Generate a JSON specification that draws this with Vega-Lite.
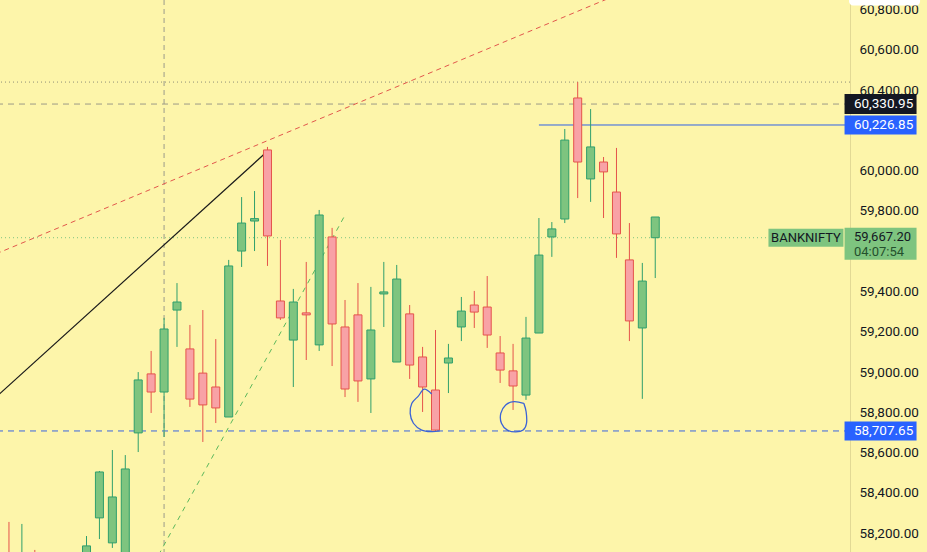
{
  "$schema": "https://vega.github.io/schema/vega-lite/v6.json",
  "width": 850,
  "height": 552,
  "autosize": {"type": "none"},
  "padding": {"left": 0, "top": 0, "right": 77, "bottom": 0},
  "background": "#fdf5aa",
  "config": {"view": {"stroke": null}},
  "datasets": {
    "candles": [
      {"i": 0, "o": 58080, "h": 58256, "l": 57950, "c": 57990},
      {"i": 1, "o": 57980, "h": 58246, "l": 57920, "c": 58080},
      {"i": 2, "o": 58060, "h": 58117, "l": 57900, "c": 57950},
      {"i": 3, "o": 57850, "h": 58000, "l": 57800, "c": 57950},
      {"i": 4, "o": 57960, "h": 58010, "l": 57840, "c": 57880},
      {"i": 5, "o": 57870, "h": 58060, "l": 57850, "c": 58000},
      {"i": 6, "o": 57960, "h": 58186, "l": 57940, "c": 58137},
      {"i": 7, "o": 58276, "h": 58509, "l": 58171, "c": 58504},
      {"i": 8, "o": 58152, "h": 58613, "l": 58127, "c": 58380},
      {"i": 9, "o": 58080, "h": 58588, "l": 58050, "c": 58519},
      {"i": 10, "o": 58698, "h": 59000, "l": 58603, "c": 58961},
      {"i": 11, "o": 58991, "h": 59105, "l": 58797, "c": 58901},
      {"i": 12, "o": 58901, "h": 59269, "l": 58678, "c": 59214},
      {"i": 13, "o": 59308, "h": 59442, "l": 59125, "c": 59348},
      {"i": 14, "o": 59115, "h": 59234, "l": 58827, "c": 58866},
      {"i": 15, "o": 58995, "h": 59308, "l": 58653, "c": 58837},
      {"i": 16, "o": 58926, "h": 59164, "l": 58747, "c": 58822},
      {"i": 17, "o": 58777, "h": 59557, "l": 58777, "c": 59527},
      {"i": 18, "o": 59601, "h": 59869, "l": 59522, "c": 59740},
      {"i": 19, "o": 59750, "h": 59899, "l": 59601, "c": 59762},
      {"i": 20, "o": 60103, "h": 60118, "l": 59527, "c": 59676},
      {"i": 21, "o": 59353, "h": 59656, "l": 59259, "c": 59269},
      {"i": 22, "o": 59159, "h": 59413, "l": 58926, "c": 59348},
      {"i": 23, "o": 59294, "h": 59547, "l": 59060, "c": 59284},
      {"i": 24, "o": 59135, "h": 59805, "l": 59105, "c": 59780},
      {"i": 25, "o": 59671, "h": 59716, "l": 59030, "c": 59239},
      {"i": 26, "o": 59224, "h": 59358, "l": 58876, "c": 58916},
      {"i": 27, "o": 59284, "h": 59442, "l": 58852, "c": 58956},
      {"i": 28, "o": 58966, "h": 59423, "l": 58797, "c": 59209},
      {"i": 29, "o": 59388, "h": 59547, "l": 59224, "c": 59398},
      {"i": 30, "o": 59050, "h": 59532, "l": 59050, "c": 59462},
      {"i": 31, "o": 59289, "h": 59333, "l": 58966, "c": 59035},
      {"i": 32, "o": 59075, "h": 59125, "l": 58802, "c": 58926},
      {"i": 33, "o": 58911, "h": 59209, "l": 58707.65, "c": 58712},
      {"i": 34, "o": 59045, "h": 59140, "l": 58896, "c": 59070},
      {"i": 35, "o": 59224, "h": 59373, "l": 59154, "c": 59303},
      {"i": 36, "o": 59333, "h": 59403, "l": 59219, "c": 59298},
      {"i": 37, "o": 59323, "h": 59477, "l": 59120, "c": 59184},
      {"i": 38, "o": 59095, "h": 59179, "l": 58946, "c": 59010},
      {"i": 39, "o": 59006, "h": 59140, "l": 58812, "c": 58931},
      {"i": 40, "o": 58886, "h": 59274, "l": 58862, "c": 59169},
      {"i": 41, "o": 59194, "h": 59765, "l": 59194, "c": 59581},
      {"i": 42, "o": 59671, "h": 59745, "l": 59572, "c": 59711},
      {"i": 43, "o": 59760, "h": 60207, "l": 59740, "c": 60152},
      {"i": 44, "o": 60361, "h": 60440, "l": 59864, "c": 60043},
      {"i": 45, "o": 59959, "h": 60306, "l": 59845, "c": 60118},
      {"i": 46, "o": 60043, "h": 60068, "l": 59765, "c": 59994},
      {"i": 47, "o": 59894, "h": 60113, "l": 59567, "c": 59686},
      {"i": 48, "o": 59557, "h": 59740, "l": 59154, "c": 59254},
      {"i": 49, "o": 59219, "h": 59542, "l": 58867, "c": 59452},
      {"i": 50, "o": 59667.2, "h": 59770, "l": 59467, "c": 59770}
    ],
    "trends": [
      {"line": "red", "k": 0, "i": -1, "p": 59587},
      {"line": "red", "k": 1, "i": 64.68, "p": 61345},
      {"line": "black", "k": 0, "i": -1, "p": 58876},
      {"line": "black", "k": 1, "i": 19.8, "p": 60085},
      {"line": "green", "k": 0, "i": 11.2, "p": 58048},
      {"line": "green", "k": 1, "i": 25.92, "p": 59770}
    ],
    "circles": [
      {"loop": 1, "k": 0, "i": 32.70, "p": 58891},
      {"loop": 1, "k": 1, "i": 32.13, "p": 58915},
      {"loop": 1, "k": 2, "i": 31.67, "p": 58881},
      {"loop": 1, "k": 3, "i": 31.17, "p": 58845},
      {"loop": 1, "k": 4, "i": 31.04, "p": 58795},
      {"loop": 1, "k": 5, "i": 31.29, "p": 58746},
      {"loop": 1, "k": 6, "i": 31.93, "p": 58712},
      {"loop": 1, "k": 7, "i": 32.70, "p": 58704},
      {"loop": 1, "k": 8, "i": 33.33, "p": 58708},
      {"loop": 2, "k": 0, "i": 39.83, "p": 58845},
      {"loop": 2, "k": 1, "i": 39.07, "p": 58853},
      {"loop": 2, "k": 2, "i": 38.43, "p": 58837},
      {"loop": 2, "k": 3, "i": 38.05, "p": 58795},
      {"loop": 2, "k": 4, "i": 38.10, "p": 58746},
      {"loop": 2, "k": 5, "i": 38.56, "p": 58712},
      {"loop": 2, "k": 6, "i": 39.20, "p": 58703},
      {"loop": 2, "k": 7, "i": 39.78, "p": 58712},
      {"loop": 2, "k": 8, "i": 40.04, "p": 58746},
      {"loop": 2, "k": 9, "i": 40.01, "p": 58803},
      {"loop": 2, "k": 10, "i": 39.83, "p": 58845}
    ]
  },
  "layer": [
    {
      "data": {"values": [{"p": 60440}]},
      "mark": {"type": "rule", "color": "#8f8f78", "strokeWidth": 1, "strokeDash": [1, 3]},
      "encoding": {"y": {"field": "p", "type": "quantitative", "scale": {"domain": [58106.7, 60847.5], "nice": false, "zero": false},
          "axis": {"orient": "right", "title": null, "values": [58200, 58400, 58600, 58800, 59000, 59200, 59400, 59800, 60000, 60400, 60600, 60800], "format": ",.2f", "grid": false, "ticks": false, "domainColor": "#e2d995", "domainWidth": 1, "labelFont": "Roboto", "labelFontSize": 13.5, "labelColor": "#131722", "labelPadding": 9, "labelFlush": false, "labelOverlap": false, "labelBound": false, "zindex": 0}}}
    },
    {
      "data": {"values": [{"p": 60330.95}]},
      "mark": {"type": "rule", "color": "#9c9a88", "strokeWidth": 1, "strokeDash": [6, 5]},
      "encoding": {"y": {"field": "p", "type": "quantitative", "scale": {"domain": [58106.7, 60847.5], "nice": false, "zero": false}}}
    },
    {
      "data": {"values": [{"p": 59667.2}]},
      "mark": {"type": "rule", "color": "#7ec47f", "strokeWidth": 1, "strokeDash": [1, 3]},
      "encoding": {"y": {"field": "p", "type": "quantitative", "scale": {"domain": [58106.7, 60847.5], "nice": false, "zero": false}}}
    },
    {
      "data": {"values": [{"p": 58707.65}]},
      "mark": {"type": "rule", "color": "#3a66e0", "strokeWidth": 1, "strokeDash": [6, 5]},
      "encoding": {"y": {"field": "p", "type": "quantitative", "scale": {"domain": [58106.7, 60847.5], "nice": false, "zero": false}}}
    },
    {
      "data": {"values": [{"p": 60226.85, "from": 41.0, "to": 64.68}]},
      "mark": {"type": "rule", "color": "#2f62e6", "strokeWidth": 1},
      "encoding": {
        "x": {"field": "from", "type": "quantitative", "scale": {"domain": [-0.306, 64.68], "nice": false, "zero": false}, "axis": null},
        "x2": {"field": "to"},
        "y": {"field": "p", "type": "quantitative", "scale": {"domain": [58106.7, 60847.5], "nice": false, "zero": false}}
      }
    },
    {
      "data": {"values": [{"i": 12}]},
      "mark": {"type": "rule", "color": "#9a9a8a", "strokeWidth": 1, "strokeDash": [5, 4]},
      "encoding": {"x": {"field": "i", "type": "quantitative", "scale": {"domain": [-0.306, 64.68], "nice": false, "zero": false}, "axis": null}}
    },
    {
      "data": {"name": "trends"},
      "transform": [{"filter": "datum.line == 'red'"}],
      "mark": {"type": "line", "color": "#e2574c", "strokeWidth": 1, "strokeDash": [5, 4], "clip": true},
      "encoding": {
        "x": {"field": "i", "type": "quantitative", "scale": {"domain": [-0.306, 64.68], "nice": false, "zero": false}, "axis": null},
        "y": {"field": "p", "type": "quantitative", "scale": {"domain": [58106.7, 60847.5], "nice": false, "zero": false}},
        "order": {"field": "k"}
      }
    },
    {
      "data": {"name": "trends"},
      "transform": [{"filter": "datum.line == 'black'"}],
      "mark": {"type": "line", "color": "#1a1a1a", "strokeWidth": 1.2, "clip": true},
      "encoding": {
        "x": {"field": "i", "type": "quantitative", "scale": {"domain": [-0.306, 64.68], "nice": false, "zero": false}, "axis": null},
        "y": {"field": "p", "type": "quantitative", "scale": {"domain": [58106.7, 60847.5], "nice": false, "zero": false}},
        "order": {"field": "k"}
      }
    },
    {
      "data": {"name": "trends"},
      "transform": [{"filter": "datum.line == 'green'"}],
      "mark": {"type": "line", "color": "#5cb85c", "strokeWidth": 1, "strokeDash": [5, 5], "clip": true},
      "encoding": {
        "x": {"field": "i", "type": "quantitative", "scale": {"domain": [-0.306, 64.68], "nice": false, "zero": false}, "axis": null},
        "y": {"field": "p", "type": "quantitative", "scale": {"domain": [58106.7, 60847.5], "nice": false, "zero": false}},
        "order": {"field": "k"}
      }
    },
    {
      "data": {"name": "candles"},
      "mark": {"type": "rule", "strokeWidth": 1, "clip": true},
      "encoding": {
        "x": {"field": "i", "type": "quantitative", "scale": {"domain": [-0.306, 64.68], "nice": false, "zero": false}, "axis": null},
        "y": {"field": "l", "type": "quantitative", "scale": {"domain": [58106.7, 60847.5], "nice": false, "zero": false}},
        "y2": {"field": "h"},
        "color": {"condition": {"test": "datum.c >= datum.o", "value": "#2f9f6c"}, "value": "#e5534b"}
      }
    },
    {
      "data": {"name": "candles"},
      "mark": {"type": "bar", "width": 8, "strokeWidth": 1, "clip": true},
      "encoding": {
        "x": {"field": "i", "type": "quantitative", "scale": {"domain": [-0.306, 64.68], "nice": false, "zero": false}, "axis": null},
        "y": {"field": "o", "type": "quantitative", "scale": {"domain": [58106.7, 60847.5], "nice": false, "zero": false}},
        "y2": {"field": "c"},
        "fill": {"condition": {"test": "datum.c >= datum.o", "value": "#7ec47f"}, "value": "#f8a2a6"},
        "stroke": {"condition": {"test": "datum.c >= datum.o", "value": "#2f9f6c"}, "value": "#e5534b"}
      }
    },
    {
      "data": {"name": "circles"},
      "mark": {"type": "line", "color": "#3b63d6", "strokeWidth": 1.3, "interpolate": "cardinal", "clip": true},
      "encoding": {
        "x": {"field": "i", "type": "quantitative", "scale": {"domain": [-0.306, 64.68], "nice": false, "zero": false}, "axis": null},
        "y": {"field": "p", "type": "quantitative", "scale": {"domain": [58106.7, 60847.5], "nice": false, "zero": false}},
        "detail": {"field": "loop"},
        "order": {"field": "k"}
      }
    },
    {
      "data": {"values": [{"i": 61.66, "p": 59667.2, "t": "BANKNIFTY"}]},
      "mark": {"type": "rect", "width": 75, "height": 18, "fill": "#7ec47f"},
      "encoding": {
        "x": {"field": "i", "type": "quantitative", "scale": {"domain": [-0.306, 64.68], "nice": false, "zero": false}, "axis": null},
        "y": {"field": "p", "type": "quantitative", "scale": {"domain": [58106.7, 60847.5], "nice": false, "zero": false}}
      }
    },
    {
      "data": {"values": [{"i": 61.66, "p": 59667.2, "t": "BANKNIFTY"}]},
      "mark": {"type": "text", "font": "Roboto", "fontSize": 13, "color": "#131722", "align": "center", "baseline": "middle"},
      "encoding": {
        "x": {"field": "i", "type": "quantitative", "scale": {"domain": [-0.306, 64.68], "nice": false, "zero": false}, "axis": null},
        "y": {"field": "p", "type": "quantitative", "scale": {"domain": [58106.7, 60847.5], "nice": false, "zero": false}},
        "text": {"field": "t"}
      }
    },
    {
      "data": {"values": [{"i": 67.74, "p": 60847.5}]},
      "mark": {"type": "rect", "width": 71, "height": 11, "fill": "#ffffff", "cornerRadius": 4, "clip": false, "zindex": 2},
      "encoding": {
        "x": {"field": "i", "type": "quantitative", "scale": {"domain": [-0.306, 64.68], "nice": false, "zero": false}, "axis": null},
        "y": {"field": "p", "type": "quantitative", "scale": {"domain": [58106.7, 60847.5], "nice": false, "zero": false}}
      }
    },
    {
      "data": {"values": [{"i": 67.43, "p": 60330.95}]},
      "mark": {"type": "rect", "width": 72, "height": 20, "fill": "#131722", "clip": false, "zindex": 2},
      "encoding": {
        "x": {"field": "i", "type": "quantitative", "scale": {"domain": [-0.306, 64.68], "nice": false, "zero": false}, "axis": null},
        "y": {"field": "p", "type": "quantitative", "scale": {"domain": [58106.7, 60847.5], "nice": false, "zero": false}}
      }
    },
    {
      "data": {"values": [{"i": 67.43, "p": 60226.85}, {"i": 67.43, "p": 58707.65}]},
      "mark": {"type": "rect", "width": 72, "height": 19, "fill": "#2962ff", "clip": false, "zindex": 2},
      "encoding": {
        "x": {"field": "i", "type": "quantitative", "scale": {"domain": [-0.306, 64.68], "nice": false, "zero": false}, "axis": null},
        "y": {"field": "p", "type": "quantitative", "scale": {"domain": [58106.7, 60847.5], "nice": false, "zero": false}}
      }
    },
    {
      "data": {"values": [{"i": 67.43, "p": 59667.2}]},
      "mark": {"type": "rect", "width": 72, "height": 32, "yOffset": 6, "fill": "#7ec47f", "clip": false, "zindex": 2},
      "encoding": {
        "x": {"field": "i", "type": "quantitative", "scale": {"domain": [-0.306, 64.68], "nice": false, "zero": false}, "axis": null},
        "y": {"field": "p", "type": "quantitative", "scale": {"domain": [58106.7, 60847.5], "nice": false, "zero": false}}
      }
    },
    {
      "data": {"values": [{"i": 65.37, "p": 60330.95}, {"i": 65.37, "p": 60226.85}, {"i": 65.37, "p": 58707.65}]},
      "mark": {"type": "text", "font": "Roboto", "fontSize": 13.5, "color": "#ffffff", "align": "left", "baseline": "middle", "clip": false, "zindex": 3},
      "encoding": {
        "x": {"field": "i", "type": "quantitative", "scale": {"domain": [-0.306, 64.68], "nice": false, "zero": false}, "axis": null},
        "y": {"field": "p", "type": "quantitative", "scale": {"domain": [58106.7, 60847.5], "nice": false, "zero": false}},
        "text": {"field": "p", "type": "quantitative", "format": ",.2f"}
      }
    },
    {
      "data": {"values": [{"i": 65.37, "p": 59667.2}]},
      "mark": {"type": "text", "font": "Roboto", "fontSize": 13, "color": "#131722", "align": "left", "baseline": "middle", "dy": -1, "clip": false, "zindex": 3},
      "encoding": {
        "x": {"field": "i", "type": "quantitative", "scale": {"domain": [-0.306, 64.68], "nice": false, "zero": false}, "axis": null},
        "y": {"field": "p", "type": "quantitative", "scale": {"domain": [58106.7, 60847.5], "nice": false, "zero": false}},
        "text": {"field": "p", "type": "quantitative", "format": ",.2f"}
      }
    },
    {
      "data": {"values": [{"i": 65.37, "p": 59667.2, "timer": "04:07:54"}]},
      "mark": {"type": "text", "font": "Roboto", "fontSize": 13, "color": "#24502d", "align": "left", "baseline": "middle", "dy": 14, "clip": false, "zindex": 3},
      "encoding": {
        "x": {"field": "i", "type": "quantitative", "scale": {"domain": [-0.306, 64.68], "nice": false, "zero": false}, "axis": null},
        "y": {"field": "p", "type": "quantitative", "scale": {"domain": [58106.7, 60847.5], "nice": false, "zero": false}},
        "text": {"field": "timer"}
      }
    }
  ]
}
